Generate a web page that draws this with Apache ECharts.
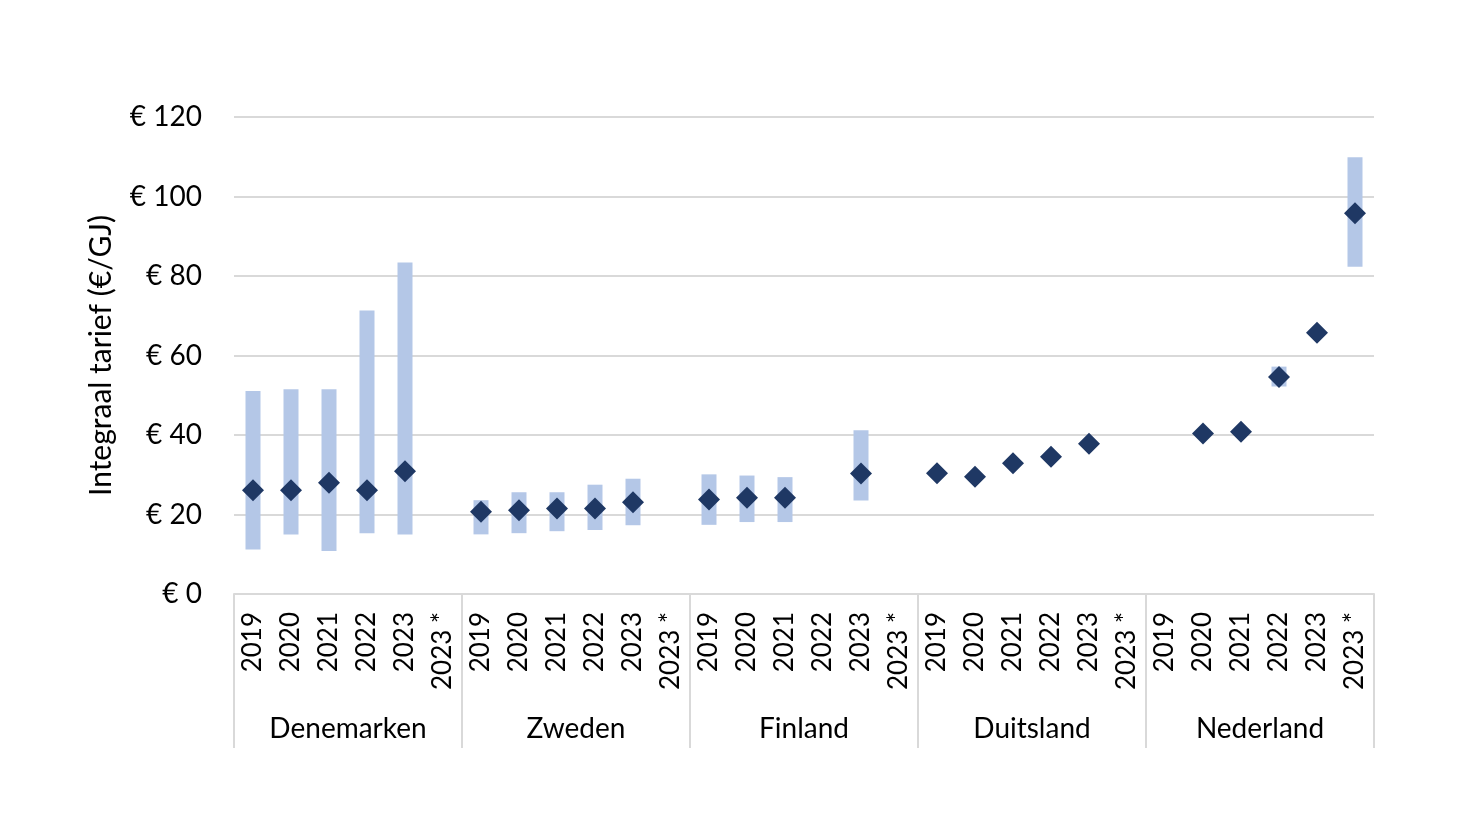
<!DOCTYPE html>
<html>
<head>
<meta charset="utf-8">
<script src="https://cdn.jsdelivr.net/npm/echarts@6/dist/echarts.min.js"></script>
<style>html,body{margin:0;padding:0;background:#fff;}#c{width:1484px;height:835px;}</style>
</head>
<body>
<div id="c"></div>
<script>
const countries = ['Denemarken', 'Zweden', 'Finland', 'Duitsland', 'Nederland'];
const years = ['2019', '2020', '2021', '2022', '2023', '2023 *'];
const yTicks = { min: 0, max: 120, interval: 20 };

// per category (5 countries x 6 years)
const rangeLow = [
  11.2, 15.0, 10.8, 15.3, 15.0, null,
  15.0, 15.3, 15.8, 16.1, 17.3, null,
  17.4, 18.1, 18.1, null, 23.5, null,
  null, null, null, null, null, null,
  null, null, null, 52.2, null, 82.3
];
const rangeHigh = [
  51.1, 51.5, 51.5, 71.3, 83.4, null,
  23.6, 25.6, 25.6, 27.5, 29.0, null,
  30.1, 29.8, 29.4, null, 41.2, null,
  null, null, null, null, null, null,
  null, null, null, 57.2, null, 109.9
];
const tariff = [
  26.1, 26.1, 28.0, 26.1, 30.9, null,
  20.7, 21.1, 21.5, 21.5, 23.1, null,
  23.8, 24.2, 24.2, null, 30.3, null,
  30.4, 29.5, 32.9, 34.5, 37.8, null,
  null, 40.4, 40.8, 54.6, 65.7, 95.8
];

const categories = [];
countries.forEach(c => years.forEach(y => categories.push(y)));
const rangeSize = rangeHigh.map((h, i) => (h == null || rangeLow[i] == null) ? null : +(h - rangeLow[i]).toFixed(2));

const FONT = 'Lato';
const chart = echarts.init(document.getElementById('c'), null, { renderer: 'canvas' });
chart.setOption({
  animation: false,
  backgroundColor: '#ffffff',
  textStyle: { fontFamily: FONT },
  grid: { left: 234, right: 110, top: 117, bottom: 241, containLabel: false },
  xAxis: [
    {
      type: 'category',
      data: categories,
      position: 'bottom',
      axisLine: { show: true, lineStyle: { color: '#d9d9d9', width: 2 } },
      axisTick: { show: false },
      axisLabel: { rotate: 90, interval: 0, margin: 18, fontSize: 26, color: '#000', fontFamily: FONT }
    },
    {
      type: 'category',
      data: countries,
      position: 'bottom',
      axisLine: { show: false },
      axisTick: { show: true, length: 154, lineStyle: { color: '#d9d9d9', width: 2 } },
      axisLabel: { interval: 0, margin: 121, fontSize: 28, color: '#000', fontFamily: FONT }
    }
  ],
  yAxis: {
    type: 'value',
    min: yTicks.min, max: yTicks.max, interval: yTicks.interval,
    name: 'Integraal tarief (€/GJ)',
    nameLocation: 'middle',
    nameGap: 118,
    nameRotate: 90,
    nameTextStyle: { fontSize: 30, color: '#000', fontFamily: FONT },
    axisLine: { show: false },
    axisTick: { show: false },
    splitLine: { lineStyle: { color: '#d9d9d9', width: 2 } },
    axisLabel: { formatter: '€ {value}', margin: 32, fontSize: 28, color: '#000', fontFamily: FONT }
  },
  series: [
    {
      type: 'bar', stack: 'r', xAxisIndex: 0, data: rangeLow, barWidth: 15,
      itemStyle: { color: 'rgba(0,0,0,0)' }, silent: true
    },
    {
      type: 'bar', stack: 'r', xAxisIndex: 0, data: rangeSize, barWidth: 15,
      itemStyle: { color: '#b4c7e7' }
    },
    {
      type: 'scatter', xAxisIndex: 0, data: tariff, symbol: 'diamond', symbolSize: [22, 22],
      itemStyle: { color: '#1f3864', opacity: 1 }, z: 5
    }
  ]
});
</script>
</body>
</html>
